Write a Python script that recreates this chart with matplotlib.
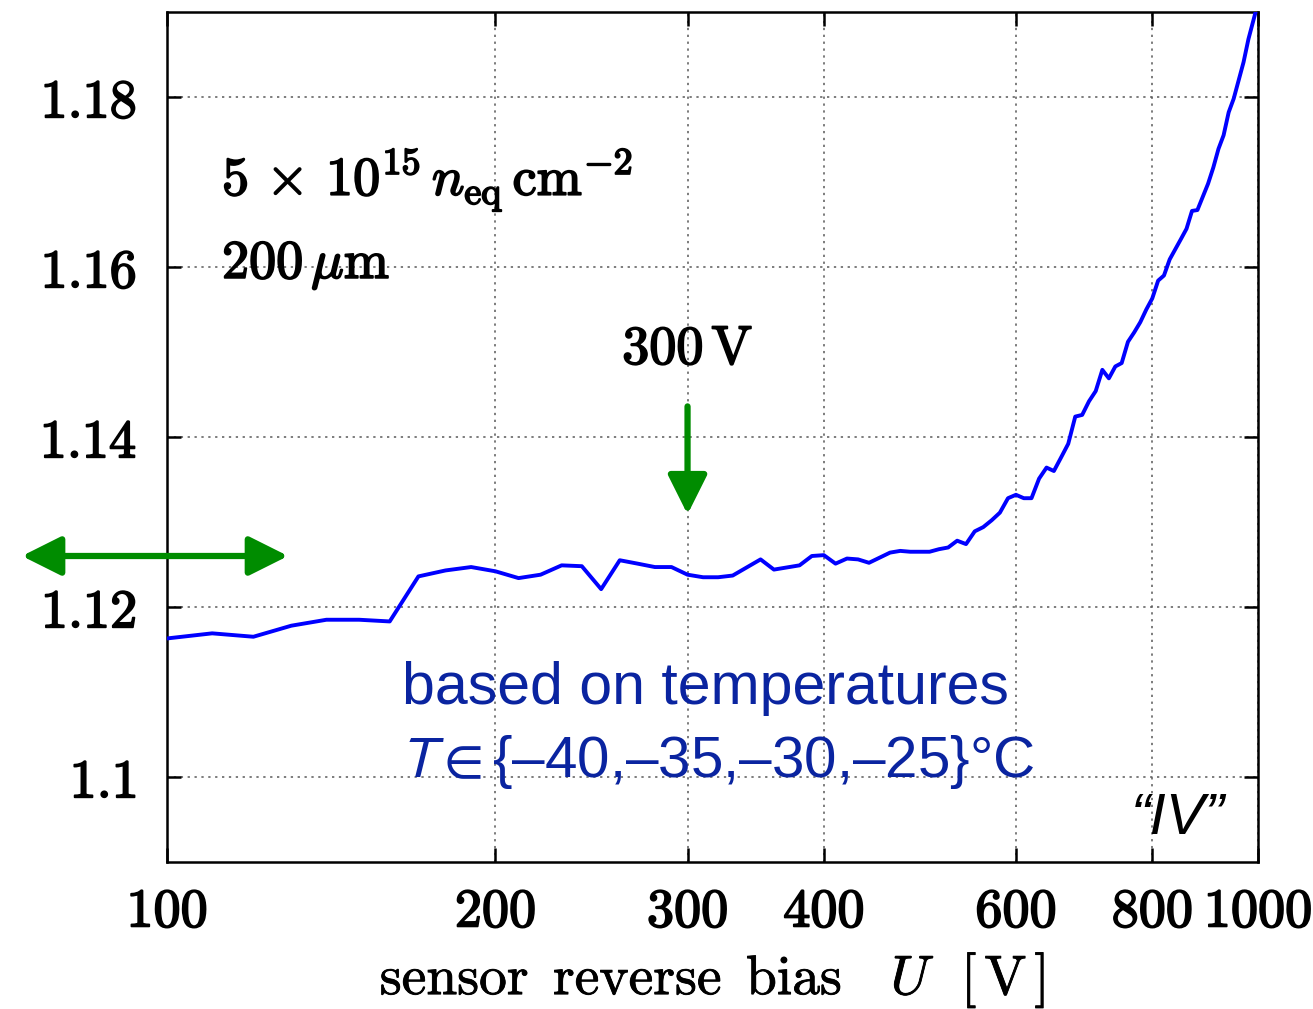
import matplotlib
matplotlib.use("Agg")
import matplotlib.pyplot as plt
import matplotlib.patheffects as pe
from matplotlib.ticker import FixedLocator, FuncFormatter, NullLocator
from matplotlib.patches import FancyArrowPatch
import numpy as np

plt.rcParams['mathtext.fontset'] = 'cm'
plt.rcParams['axes.unicode_minus'] = False

# effective band gap vs. bias voltage ("IV" method)
bias_V = [100, 110, 120, 130, 140, 150, 160, 170, 180, 190,
          200, 210, 220, 230, 240, 250, 260, 270, 280, 290,
          300, 310, 320, 330, 350, 360, 380, 390, 400, 410,
          420, 430, 440, 460, 470, 480, 500, 510, 520, 530,
          540, 550, 560, 570, 580, 590, 600, 610, 620, 630,
          640, 650, 660, 670, 680, 690, 700, 710, 720, 730,
          740, 750, 760, 770, 780, 790, 800, 810, 820, 830,
          850, 860, 870, 880, 900, 910, 920, 930, 940, 950,
          970, 980, 995]
E_eff = [1.1163, 1.1169, 1.1165, 1.1178, 1.1185, 1.1185, 1.1183, 1.1236, 1.1243, 1.1247,
         1.1242, 1.1234, 1.1238, 1.1249, 1.1248, 1.1221, 1.1255, 1.1251, 1.1247, 1.1247,
         1.1238, 1.1235, 1.1235, 1.1237, 1.1256, 1.1244, 1.1249, 1.1260, 1.1261, 1.1251,
         1.1257, 1.1256, 1.1252, 1.1264, 1.1266, 1.1265, 1.1265, 1.1268, 1.1270, 1.1278,
         1.1274, 1.1289, 1.1294, 1.1302, 1.1311, 1.1328, 1.1332, 1.1328, 1.1328, 1.1351,
         1.1364, 1.1360, 1.1376, 1.1392, 1.1424, 1.1426, 1.1442, 1.1454, 1.1479, 1.1469,
         1.1483, 1.1487, 1.1512, 1.1523, 1.1535, 1.1550, 1.1563, 1.1584, 1.1590, 1.1609,
         1.1633, 1.1645, 1.1666, 1.1667, 1.1698, 1.1717, 1.1739, 1.1755, 1.1782, 1.1798,
         1.1841, 1.1868, 1.1900]

x_ticks = [100, 200, 300, 400, 600, 800, 1000]
y_ticks = [1.10, 1.12, 1.14, 1.16, 1.18]
y_ticklabels = ['1.1', '1.12', '1.14', '1.16', '1.18']

operating_V = 300
plateau_level = 1.126

green = '#008c00'
textblue = '#0a24a0'
bold = [pe.withStroke(linewidth=1.3, foreground='black')]

fig = plt.figure(figsize=(13.13, 10.09), dpi=100)
ax = fig.add_axes([0.1272, 0.1457, 0.8309, 0.8424])

ax.plot(bias_V, E_eff, color='#0000ff', lw=2.8, zorder=3)

ax.set_xscale('log')
ax.set_xlim(100, 1000)
ax.set_ylim(1.09, 1.19)

ax.xaxis.set_major_locator(FixedLocator(x_ticks))
ax.xaxis.set_minor_locator(NullLocator())
ax.xaxis.set_major_formatter(FuncFormatter(lambda v, p: r'$%d$' % round(v)))
ax.yaxis.set_major_locator(FixedLocator(y_ticks))
ax.yaxis.set_major_formatter(FuncFormatter(
    lambda v, p: r'$%s$' % y_ticklabels[int(round((v - 1.10) / 0.02))]))

ax.tick_params(which='major', direction='in', length=10, width=1.8,
               top=True, right=True, labelsize=39)
ax.tick_params(axis='y', pad=22)
ax.tick_params(axis='x', pad=17)
for s in ax.spines.values():
    s.set_linewidth(1.8)
for t in ax.xaxis.get_major_ticks() + ax.yaxis.get_major_ticks():
    t.label1.set_path_effects(bold)

ax.grid(True, which='major', linestyle=(0, (1.5, 3)), color='0.35', lw=1.1)

ax.set_xlabel(r'$\mathrm{sensor\ \,reverse\ \,bias}\quad U\ \ [\,\mathrm{V}\,]$',
              fontsize=40, labelpad=9)
ax.xaxis.label.set_path_effects([pe.withStroke(linewidth=0.6, foreground='black')])

# annotations
yax = ax.get_yaxis_transform()
ax.text(0.0504, 1.1685, r'$5\,\times\,10^{15}\,n_{\mathrm{eq}}\,\mathrm{cm}^{-2}$',
        transform=yax, fontsize=39, va='baseline', ha='left', path_effects=bold)
ax.text(0.0504, 1.1587, r'$200\,\mu\mathrm{m}$',
        transform=yax, fontsize=39, va='baseline', ha='left', path_effects=bold)
ax.text(operating_V, 1.1486, r'$300\,\mathrm{V}$', fontsize=39, va='baseline',
        ha='center', path_effects=bold)

down = FancyArrowPatch((operating_V, 1.1436), (operating_V, 1.1309),
                       arrowstyle='-|>,head_length=0.6,head_width=0.3',
                       mutation_scale=40, color=green, lw=4.5, zorder=4,
                       shrinkA=0, shrinkB=0)
ax.add_patch(down)

both = FancyArrowPatch((-0.133, plateau_level), (0.111, plateau_level),
                       transform=yax,
                       arrowstyle='<|-|>,head_length=0.6,head_width=0.3',
                       mutation_scale=40, color=green, lw=4.5, zorder=4,
                       shrinkA=0, shrinkB=0, clip_on=False)
ax.add_patch(both)

ax.text(0.2154, 1.1086, 'based on temperatures', transform=yax,
        fontsize=42.5, color=textblue, family=['Liberation Sans', 'DejaVu Sans'],
        va='baseline', ha='left')
ax.text(0.2125, 1.1000, r'$T{\in}$' + '{–40,–35,–30,–25}°C', transform=yax,
        fontsize=42, color=textblue, family=['Liberation Sans', 'DejaVu Sans'],
        math_fontfamily='stixsans', va='baseline', ha='left')
ax.text(0.9698, 1.0933, '“IV”', transform=yax,
        fontsize=42, style='italic', family=['Liberation Sans', 'DejaVu Sans'],
        va='baseline', ha='right')

fig.savefig('out.png', dpi=100)
